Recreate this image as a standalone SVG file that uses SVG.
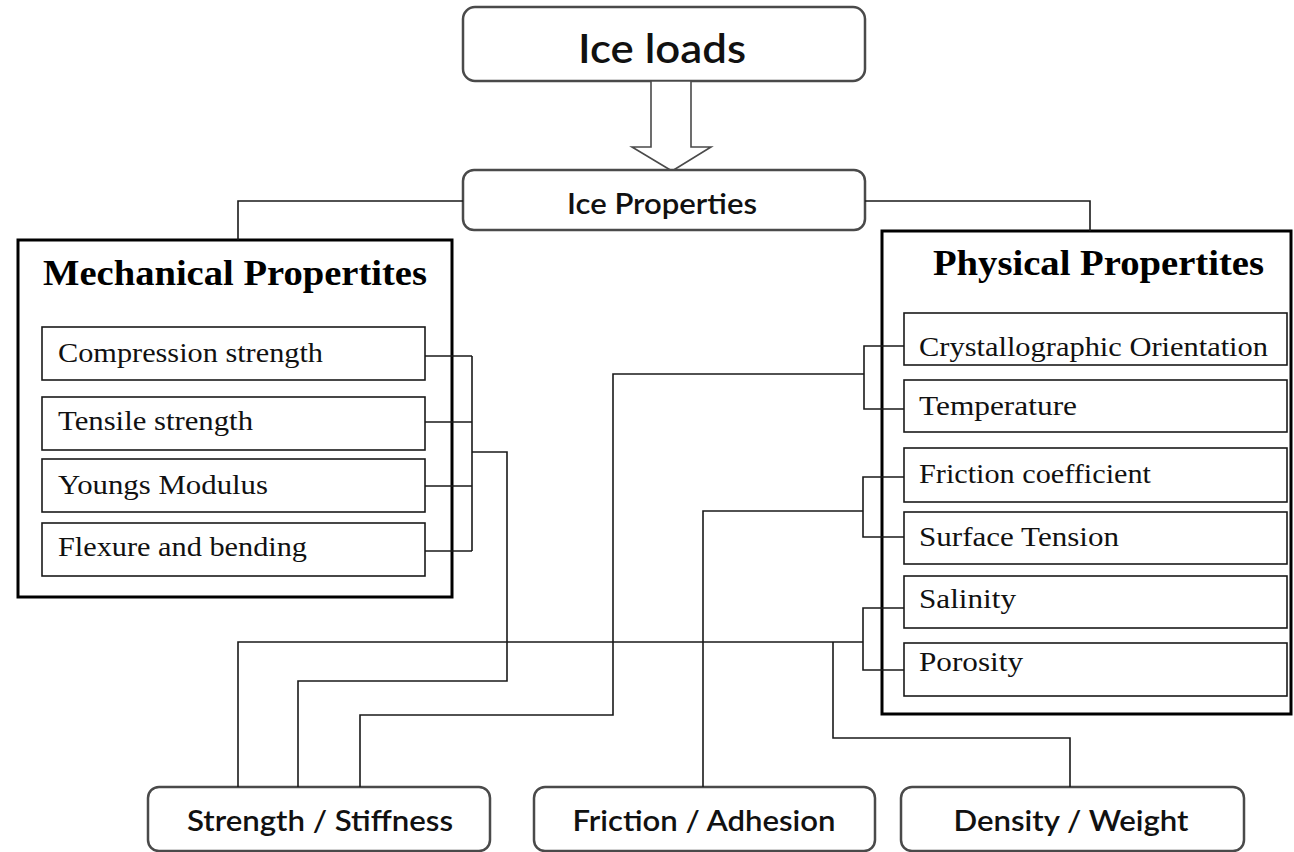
<svg xmlns="http://www.w3.org/2000/svg" width="1294" height="852" viewBox="0 0 1294 852">
<style>
.rbox{fill:#fff;stroke:#4a4a4a;stroke-width:2.5}
.outer{fill:#fff;stroke:#000;stroke-width:3}
.inner{fill:#fff;stroke:#1a1a1a;stroke-width:1.6}
.conn{fill:none;stroke:#1a1a1a;stroke-width:1.6}
.sans{font-family:Lato,"Open Sans","Liberation Sans",sans-serif;font-weight:600;fill:#111}
.serif{font-family:"Liberation Serif","Times New Roman",serif;fill:#111}
.title{font-family:"Liberation Serif","Times New Roman",serif;font-weight:bold;fill:#000}
</style>
<rect width="1294" height="852" fill="#fff"/>

<g id="ice-loads">
<rect class="rbox" x="463" y="7" width="402" height="74" rx="12"/>
<text class="sans" x="662" y="63" font-size="40" text-anchor="middle" textLength="168" lengthAdjust="spacingAndGlyphs">Ice loads</text>
</g>

<g id="arrow">
<polygon points="651,81 691,81 691,147 711,147 672,171 632,147 651,147" fill="#fff" stroke="#4a4a4a" stroke-width="1.6"/>
</g>

<g id="ice-properties">
<rect class="rbox" x="463" y="170" width="402" height="60" rx="11"/>
<text class="sans" x="662" y="214" font-size="28" text-anchor="middle" textLength="190" lengthAdjust="spacingAndGlyphs">Ice Properties</text>
</g>

<g id="mechanical">
<rect class="outer" x="18" y="240" width="434" height="357"/>
<text class="title" x="43" y="285" font-size="35" textLength="384" lengthAdjust="spacingAndGlyphs">Mechanical Propertites</text>
<g id="compression"><rect class="inner" x="42" y="327" width="383" height="53"/>
<text class="serif" x="58" y="362" font-size="28" textLength="265" lengthAdjust="spacingAndGlyphs">Compression strength</text></g>
<g id="tensile"><rect class="inner" x="42" y="397" width="383" height="53"/>
<text class="serif" x="58" y="430" font-size="28" textLength="195" lengthAdjust="spacingAndGlyphs">Tensile strength</text></g>
<g id="youngs"><rect class="inner" x="42" y="459" width="383" height="53"/>
<text class="serif" x="58" y="494" font-size="28" textLength="210" lengthAdjust="spacingAndGlyphs">Youngs Modulus</text></g>
<g id="flexure"><rect class="inner" x="42" y="523" width="383" height="53"/>
<text class="serif" x="58" y="556" font-size="28" textLength="249" lengthAdjust="spacingAndGlyphs">Flexure and bending</text></g>
</g>

<g id="physical">
<rect class="outer" x="882" y="231" width="409" height="483"/>
<text class="title" x="933" y="275" font-size="35" textLength="331" lengthAdjust="spacingAndGlyphs">Physical Propertites</text>
<g id="crystallographic"><rect class="inner" x="904" y="313" width="383" height="52"/>
<text class="serif" x="919" y="356" font-size="28" textLength="349" lengthAdjust="spacingAndGlyphs">Crystallographic Orientation</text></g>
<g id="temperature"><rect class="inner" x="904" y="380" width="383" height="52"/>
<text class="serif" x="919" y="415" font-size="28" textLength="158" lengthAdjust="spacingAndGlyphs">Temperature</text></g>
<g id="friction-coefficient"><rect class="inner" x="904" y="448" width="383" height="54"/>
<text class="serif" x="919" y="483" font-size="28" textLength="232" lengthAdjust="spacingAndGlyphs">Friction coefficient</text></g>
<g id="surface-tension"><rect class="inner" x="904" y="512" width="383" height="52"/>
<text class="serif" x="919" y="546" font-size="28" textLength="200" lengthAdjust="spacingAndGlyphs">Surface Tension</text></g>
<g id="salinity"><rect class="inner" x="904" y="576" width="383" height="52"/>
<text class="serif" x="919" y="608" font-size="28" textLength="97" lengthAdjust="spacingAndGlyphs">Salinity</text></g>
<g id="porosity"><rect class="inner" x="904" y="643" width="383" height="53"/>
<text class="serif" x="919" y="671" font-size="28" textLength="104" lengthAdjust="spacingAndGlyphs">Porosity</text></g>
</g>

<g id="strength-stiffness">
<rect class="rbox" x="148" y="787" width="342" height="64" rx="11"/>
<text class="sans" x="320" y="831" font-size="28" text-anchor="middle" textLength="266" lengthAdjust="spacingAndGlyphs">Strength / Stiffness</text>
</g>
<g id="friction-adhesion">
<rect class="rbox" x="534" y="787" width="341" height="64" rx="11"/>
<text class="sans" x="704" y="831" font-size="28" text-anchor="middle" textLength="263" lengthAdjust="spacingAndGlyphs">Friction / Adhesion</text>
</g>
<g id="density-weight">
<rect class="rbox" x="901" y="787" width="343" height="64" rx="11"/>
<text class="sans" x="1071" y="831" font-size="28" text-anchor="middle" textLength="235" lengthAdjust="spacingAndGlyphs">Density / Weight</text>
</g>

<g id="connectors">
<path class="conn" d="M463,201 H238 V240"/>
<path class="conn" d="M865,201 H1090 V231"/>
<path class="conn" d="M425,356 H472 M425,422 H472 M425,486 H472 M425,551 H472 M472,356 V551"/>
<path class="conn" d="M472,452 H507 V681 H298 V787"/>
<path class="conn" d="M904,346 H864 V409 H904 M864,374 H613 V715 H360 V787"/>
<path class="conn" d="M904,477 H863 V537 H904 M863,511 H703 V787"/>
<path class="conn" d="M904,608 H863 V670 H904 M863,642 H238 V787"/>
<path class="conn" d="M833,642 V738 H1070 V787"/>
</g>
</svg>
